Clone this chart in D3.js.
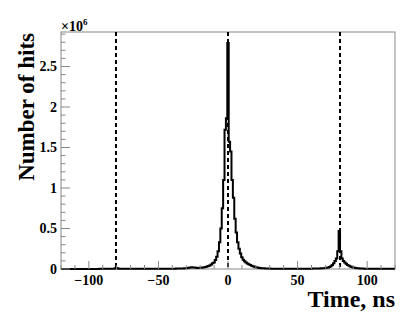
<!DOCTYPE html>
<html>
<head>
<meta charset="utf-8">
<script src="https://cdn.jsdelivr.net/npm/d3@7"></script>
<style>
  body { margin: 0; background: #fff; }
  svg { display: block; }
</style>
</head>
<body>
<div id="chart"></div>
<script>
// Histogram of hit times, 1 ns bins, first bin centred at -120 ns
const firstBin = -120;
// counts per bin, in thousands of hits
const counts = [
  1, 1, 1, 1, 1, 1, 1, 1, 1, 1,           // -120 .. -111
  1, 1, 1, 1, 1, 1, 1, 1, 1, 1,           // -110 .. -101
  1, 1, 1, 1, 1, 1, 1, 1, 2, 2,           // -100 .. -91
  2, 2, 2, 2, 2, 2, 2, 2, 3, 8,           // -90 .. -81
  12, 5, 3, 2, 2, 2, 2, 2, 2, 2,          // -80 .. -71
  2, 2, 2, 2, 2, 2, 2, 2, 2, 2,           // -70 .. -61
  2, 2, 2, 2, 2, 3, 3, 3, 3, 3,           // -60 .. -51
  3, 3, 3, 3, 3, 3, 3, 3, 4, 4,           // -50 .. -41
  4, 4, 4, 5, 5, 5, 6, 6, 7, 8,           // -40 .. -31
  10, 13, 16, 20, 22, 20, 17, 14, 12, 11, // -30 .. -21
  14, 16, 18, 21, 25, 30, 36, 44, 55, 70, // -20 .. -11
  80, 110, 150, 220, 330, 500, 750, 1100, 1720, 1860, // -10 .. -1
  2790,                                   // 0
  1570, 1450, 1100, 880, 620, 450, 330, 250, 190, 145, // 1 .. 10
  115, 95, 80, 68, 58, 48, 40, 33, 27, 22, // 11 .. 20
  18, 15, 12, 10, 9, 8, 7, 6, 5, 5,       // 21 .. 30
  4, 4, 4, 4, 3, 3, 3, 3, 3, 3,           // 31 .. 40
  3, 3, 3, 3, 3, 3, 3, 3, 3, 3,           // 41 .. 50
  3, 3, 3, 3, 3, 3, 4, 4, 4, 4,           // 51 .. 60
  5, 5, 5, 6, 6, 7, 8, 9, 10, 12,         // 61 .. 70
  15, 18, 25, 35, 50, 70, 100, 130, 220, 470, // 71 .. 80
  220, 130, 100, 80, 65, 50, 40, 30, 25, 20,  // 81 .. 90
  16, 13, 10, 8, 7, 6, 5, 4, 4, 3,        // 91 .. 100
  3, 3, 2, 2, 2, 2, 2, 2, 2, 2,           // 101 .. 110
  2, 2, 2, 2, 2, 2, 2, 2, 2, 2            // 111 .. 120
];
// bunch crossing markers (ns)
const markers = [-80.5, 0, 80.5];
const xTicks = [-100, -50, 0, 50, 100];
const yTicks = [0, 0.5, 1, 1.5, 2, 2.5];

const FONT = "'Liberation Serif', 'Times New Roman', Times, serif";

const W = 407, H = 317;
const margin = { top: 32, right: 12, bottom: 48, left: 61 };
const width = W - margin.left - margin.right;
const height = H - margin.top - margin.bottom;

const svg = d3.select("#chart").append("svg")
  .attr("width", W).attr("height", H)
  .attr("font-family", FONT)
  .attr("font-weight", "bold");

const g = svg.append("g")
  .attr("transform", `translate(${margin.left},${margin.top})`);

const x = d3.scaleLinear().domain([-120, 120]).range([0, width]);
const y = d3.scaleLinear().domain([0, 2.926]).range([height, 0]);

g.append("clipPath").attr("id", "frame")
  .append("rect").attr("width", width).attr("height", height + 2).attr("y", -1);

// frame
g.append("rect")
  .attr("width", width).attr("height", height)
  .attr("fill", "none").attr("stroke", "#888").attr("stroke-width", 1);

// dashed markers
g.selectAll(".marker")
  .data(markers)
  .enter().append("line")
  .attr("x1", d => x(d)).attr("x2", d => x(d))
  .attr("y1", 0).attr("y2", height)
  .attr("stroke", "#000").attr("stroke-width", 2)
  .attr("stroke-dasharray", "4,3");

// histogram outline
const pts = [];
counts.forEach((c, i) => {
  const lo = firstBin + i - 0.5;
  pts.push([lo, c / 1000]);
});
pts.push([firstBin + counts.length - 0.5, counts[counts.length - 1] / 1000]);

const line = d3.line()
  .x(d => x(d[0]))
  .y(d => y(d[1]))
  .curve(d3.curveStepAfter);

g.append("path")
  .datum(pts)
  .attr("clip-path", "url(#frame)")
  .attr("fill", "none")
  .attr("stroke", "#000")
  .attr("stroke-width", 2)
  .attr("d", line);

// x axis ticks (inward, ROOT style)
const xMinor = d3.range(-120, 121, 10);
g.selectAll(".xt")
  .data(xMinor)
  .enter().append("line")
  .attr("x1", d => x(d)).attr("x2", d => x(d))
  .attr("y1", height)
  .attr("y2", d => height - (d % 50 === 0 ? 8 : 4))
  .attr("stroke", "#888");

g.selectAll(".xl")
  .data(xTicks)
  .enter().append("text")
  .attr("x", d => x(d))
  .attr("y", height + 16)
  .attr("text-anchor", "middle")
  .attr("font-size", 14)
  .text(d => d < 0 ? "\u2212" + Math.abs(d) : d);

// y axis ticks
const yMinor = d3.range(0, 2.95, 0.1);
g.selectAll(".yt")
  .data(yMinor)
  .enter().append("line")
  .attr("x1", 0)
  .attr("x2", d => (Math.abs(d * 2 - Math.round(d * 2)) < 1e-6 ? 9 : 4.5))
  .attr("y1", d => y(d)).attr("y2", d => y(d))
  .attr("stroke", "#888");

g.selectAll(".yl")
  .data(yTicks)
  .enter().append("text")
  .attr("x", -4)
  .attr("y", d => y(d))
  .attr("dy", "0.35em")
  .attr("text-anchor", "end")
  .attr("font-size", 14)
  .text(d => d);

// exponent
const ex = svg.append("text")
  .attr("x", margin.left)
  .attr("y", 31)
  .attr("font-size", 14);
ex.append("tspan").text("\u00d710");
ex.append("tspan").attr("dy", -6).attr("font-size", 9).text("6");

// titles
svg.append("text")
  .attr("x", margin.left + width)
  .attr("y", 307)
  .attr("text-anchor", "end")
  .attr("font-size", 24)
  .text("Time, ns");

svg.append("text")
  .attr("transform", "translate(34,33) rotate(-90)")
  .attr("text-anchor", "end")
  .attr("font-size", 23)
  .text("Number of hits");
</script>
</body>
</html>
